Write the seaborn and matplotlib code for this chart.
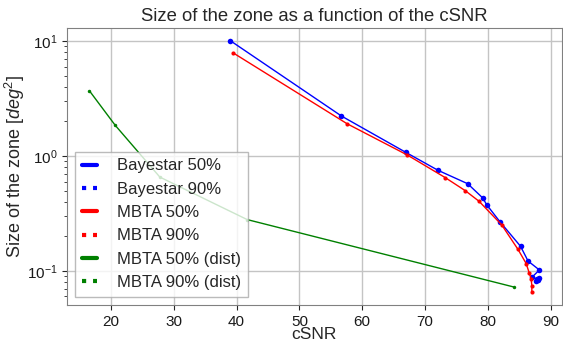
import matplotlib
matplotlib.use("Agg")
import matplotlib.pyplot as plt
from matplotlib.lines import Line2D
import numpy as np
import pandas as pd
import seaborn as sns

# Bayestar 50% credible-region size versus cSNR
bayestar_csnr = [39.0, 56.7, 66.9, 72.1, 76.8, 79.2, 79.8, 81.9, 85.2, 86.4,
                 88.2, 87.0, 87.9, 88.1, 87.6, 88.0]
bayestar_area = [10.1, 2.23, 1.08, 0.75, 0.574, 0.431, 0.378, 0.269, 0.164, 0.122,
                 0.102, 0.088, 0.085, 0.087, 0.081, 0.084]

# MBTA 50% credible-region size versus cSNR
mbta_csnr = [39.4, 57.6, 67.2, 73.2, 76.4, 78.6, 82.2, 84.8, 86.1, 86.6,
             86.9, 87.0, 87.0]
mbta_area = [7.94, 1.91, 1.02, 0.65, 0.50, 0.404, 0.252, 0.154, 0.116, 0.0955,
             0.0853, 0.0741, 0.065]

# MBTA 50% with distance, versus cSNR
mbta_dist_csnr = [16.6, 20.7, 27.8, 41.7, 84.1]
mbta_dist_area = [3.69, 1.85, 0.656, 0.28, 0.0726]

legend_labels = ["Bayestar 50%", "Bayestar 90%", "MBTA 50%", "MBTA 90%",
                 "MBTA 50% (dist)", "MBTA 90% (dist)"]
legend_colors = ["blue", "blue", "red", "red", "green", "green"]

sns.set_style("ticks")
plt.rcParams["font.family"] = ["Liberation Sans", "DejaVu Sans"]
plt.rcParams["mathtext.fontset"] = "custom"
plt.rcParams["mathtext.it"] = "Liberation Sans:italic"
plt.rcParams["mathtext.rm"] = "Liberation Sans"

fig, ax = plt.subplots(figsize=(5.63, 3.42), dpi=100)

series = [
    ("Bayestar", bayestar_csnr, bayestar_area, "blue", 4),
    ("MBTA", mbta_csnr, mbta_area, "red", 3),
    ("MBTA dist", mbta_dist_csnr, mbta_dist_area, "green", 2.5),
]
for name, xs, ys, col, ms in series:
    df = pd.DataFrame({"cSNR": xs, "area": ys})
    sns.lineplot(data=df, x="cSNR", y="area", sort=False, estimator=None,
                 color=col, marker="o", markersize=ms, markeredgewidth=0,
                 linewidth=1.0, ax=ax)

ax.set_yscale("log")
ax.grid(True, which="major", color="#c4c4c4", linewidth=1.0)
for s in ax.spines.values():
    s.set_color("#808080")
ax.tick_params(labelsize=11, labelcolor="#1a1a1a")

ax.set_title("Size of the zone as a function of the cSNR", fontsize=13.3, pad=5)
ax.set_xlabel("cSNR", fontsize=12.5, labelpad=-1)
ax.set_ylabel("Size of the zone [$deg^2$]", fontsize=13)
ax.yaxis.set_label_coords(-0.08, 0.5)

handles = []
for lab, col in zip(legend_labels, legend_colors):
    ls = "-" if "50%" in lab else ":"
    handles.append(Line2D([], [], color=col, linestyle=ls, linewidth=3))
ax.legend(handles, legend_labels, loc="lower left", fontsize=12,
          handlelength=0.9, handletextpad=1.2, labelspacing=0.5,
          framealpha=0.8, fancybox=False, edgecolor="#aaaaaa")

fig.subplots_adjust(left=0.119, right=0.998, top=0.918, bottom=0.108)
fig.savefig("out.png", dpi=100)
